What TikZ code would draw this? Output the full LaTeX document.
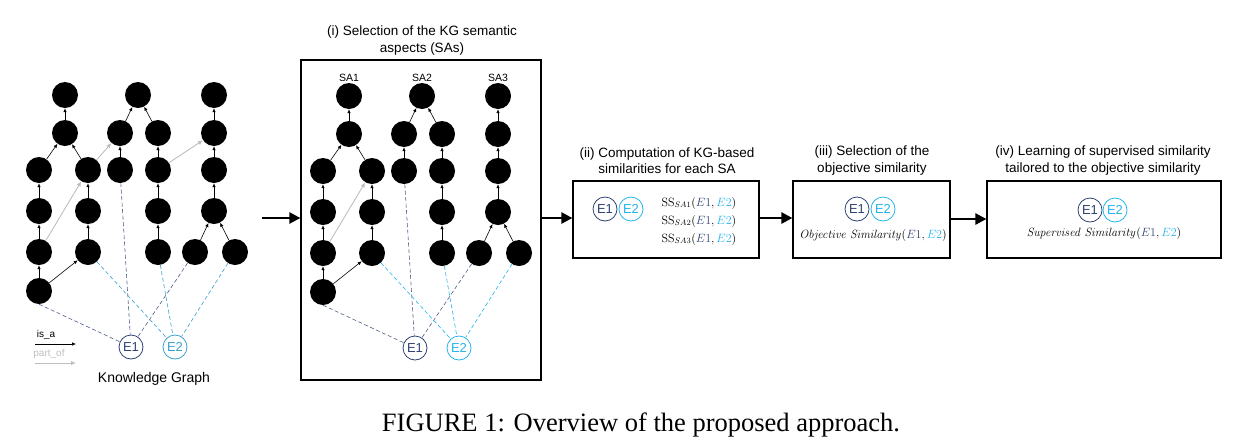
\documentclass[tikz,border=0pt]{standalone}
\usepackage[no-math]{fontspec}
\setmainfont{Liberation Sans}
\newfontfamily\capfont{Liberation Serif}
\usetikzlibrary{arrows.meta}

\definecolor{kgnavy}{RGB}{46,66,114}
\definecolor{kgblue}{RGB}{58,160,208}
\definecolor{kgcyan}{RGB}{36,180,236}
\definecolor{partgray}{RGB}{190,190,190}

\tikzset{
  kgnode/.style={circle, fill=black, minimum size=26pt, inner sep=0pt},
  isa/.style={-{Latex[length=4pt,width=3.5pt]}, line width=0.6pt},
  partof/.style={-{Latex[length=5pt,width=4.5pt]}, line width=0.9pt, draw=partgray},
  ent/.style={circle, draw, line width=0.8pt, minimum size=24pt, inner sep=0pt, font=\fontsize{13}{14}\selectfont},
  link/.style={dash pattern=on 4pt off 2.5pt, line width=0.6pt},
  stagebox/.style={draw, line width=1.2pt, inner sep=0pt},
  flow/.style={-{Triangle[length=11pt,width=11pt]}, line width=2.5pt},
  stitle/.style={align=center, font=\fontsize{13.5}{16.5}\selectfont},
  smalltxt/.style={font=\fontsize{10}{12}\selectfont, inner sep=1pt},
  simtxt/.style={align=left, font=\fontsize{12}{18}\selectfont},
}

\begin{document}
\begin{tikzpicture}[x=1pt, y=-1pt]
\useasboundingbox (0,0) rectangle (1241,445);

% --- Knowledge graph (left) and its copy in box (i) ---
\foreach \g/\sx/\sy/\ec in {L/0/0/kgblue, R/284/1/kgcyan} {
    \foreach \n/\x/\y in {a1/65/95, a2/65/133, a3/39/170, a4/39/211, a5/39/252, a6/39/291,
                          b3/88/170, b4/88/211, b5/88/252,
                          c1/138/95, c2/120/133, c3/120/170,
                          d2/158/133, d3/158/170, d4/158/211, d5/158/252,
                          e1/214/95, e2/214/133, e3/214/170, e4/214/211,
                          f5/195/252, g5/235/252} {
        \node[kgnode] (\g-\n) at (\x+\sx,\y+\sy) {};
    }
    % is_a edges
    \foreach \s/\t in {a2/a1, a3/a2, b3/a2, a4/a3, a5/a4, a6/a5, a6/b5, b4/b3, b5/b4,
                       c2/c1, d2/c1, c3/c2, d3/d2, d4/d3, d5/d4,
                       e2/e1, e3/e2, e4/e3, f5/e4, g5/e4} {
        \draw[isa] (\g-\s) -- (\g-\t);
    }
    % part_of edge
    \draw[partof] (\g-a5) -- (\g-b3);
    % entities and their links
    \node[ent, draw=kgnavy, text=kgnavy] (\g-E1) at (131+\sx,347+\sy) {E1};
    \node[ent, draw=\ec, text=\ec] (\g-E2) at (175+\sx,347+\sy) {E2};
    \draw[link, draw=kgnavy!85] (\g-a6.south) -- (\g-E1);
    \draw[link, draw=kgnavy!85] (\g-c3) -- (\g-E1);
    \draw[link, draw=kgnavy!85] (\g-f5) -- (\g-E1);
    \foreach \s in {b5, d5, g5} {
        \draw[link, draw=\ec] (\g-\s) -- (\g-E2);
    }
}

% part_of edges only in the full graph
\draw[partof] (L-b3) -- (L-c2);
\draw[partof] (L-d3) -- (L-e2);

% Legenda
\coordinate (isaA) at (35,344);
\coordinate (isaB) at (76,344);
\coordinate (partA) at (35,363);
\coordinate (partB) at (76,363);
\node[smalltxt] (isatxt) at (46,335) {is\_a};
\node[smalltxt, text=partgray] (parttxt) at (49,354) {part\_of};
\draw[isa] (isaA) -- (isaB);
\draw[partof] (partA) -- (partB);
\node[font=\fontsize{14}{16}\selectfont] (kgtxt) at (154,379) {Knowledge Graph};

% --- Box (i) ---
\node[stagebox, minimum width=240pt, minimum height=320pt] (boxi) at (421,220) {};
\node[stitle] (ti) at (422,40.5) {(i) Selection of the KG semantic\\aspects (SAs)};
\foreach \n/\t in {a1/SA1, c1/SA2, e1/SA3} {
    \node[smalltxt, font=\fontsize{10.5}{12}\selectfont, anchor=south] (sa-\n) at (R-\n.north) {\t};
}

% --- Box (ii) ---
\node[stagebox, minimum width=186pt, minimum height=77pt] (boxii) at (666,219.5) {};
\node[stitle] (tii) at (667,160.5) {(ii) Computation of KG-based\\similarities for each SA};
\node[ent, draw=kgnavy, text=kgnavy] (ii-E1) at (605,209) {E1};
\node[ent, draw=kgcyan, text=kgcyan] (ii-E2) at (631,209) {E2};
\node[simtxt, anchor=west] (ss) at (658,221)
    {$\mathrm{SS}_{SA1}(\textcolor{kgnavy}{E1},\textcolor{kgcyan}{E2})$\\
     $\mathrm{SS}_{SA2}(\textcolor{kgnavy}{E1},\textcolor{kgcyan}{E2})$\\
     $\mathrm{SS}_{SA3}(\textcolor{kgnavy}{E1},\textcolor{kgcyan}{E2})$};

% --- Box (iii) ---
\node[stagebox, minimum width=157pt, minimum height=77pt] (boxiii) at (871.5,219.5) {};
\node[stitle] (tiii) at (872,160.5) {(iii) Selection of the\\objective similarity};
\node[ent, draw=kgnavy, text=kgnavy] (iii-E1) at (857,209) {E1};
\node[ent, draw=kgcyan, text=kgcyan] (iii-E2) at (883,209) {E2};
\node[simtxt] (obj) at (873,235)
    {$\mathit{Objective\ Similarity}(\textcolor{kgnavy}{E1},\textcolor{kgcyan}{E2})$};

% --- Box (iv) ---
\node[stagebox, minimum width=234pt, minimum height=77pt] (boxiv) at (1104,219.5) {};
\node[stitle] (tiv) at (1103,160.5) {(iv) Learning of supervised similarity\\tailored to the objective similarity};
\node[ent, draw=kgnavy, text=kgnavy] (iv-E1) at (1090,210) {E1};
\node[ent, draw=kgcyan, text=kgcyan] (iv-E2) at (1115,210) {E2};
\node[simtxt] (sup) at (1104,233)
    {$\mathit{Supervised\ Similarity}(\textcolor{kgnavy}{E1},\textcolor{kgcyan}{E2})$};

% Frecce tra le fasi
\coordinate (kgout) at (262,218);
\draw[flow] (kgout) -- (kgout -| boxi.west);
\draw[flow] (boxi.east |- 0,218) -- (boxii.west |- 0,218);
\draw[flow] (boxii.east |- 0,218) -- (boxiii.west |- 0,218);
\draw[flow] (boxiii.east |- 0,219) -- (boxiv.west |- 0,219);

% Didascalia
\node[font=\capfont\fontsize{26.5}{30}\selectfont] (cap) at (641,425) {FIGURE 1: Overview of the proposed approach.};

\end{tikzpicture}
\end{document}
